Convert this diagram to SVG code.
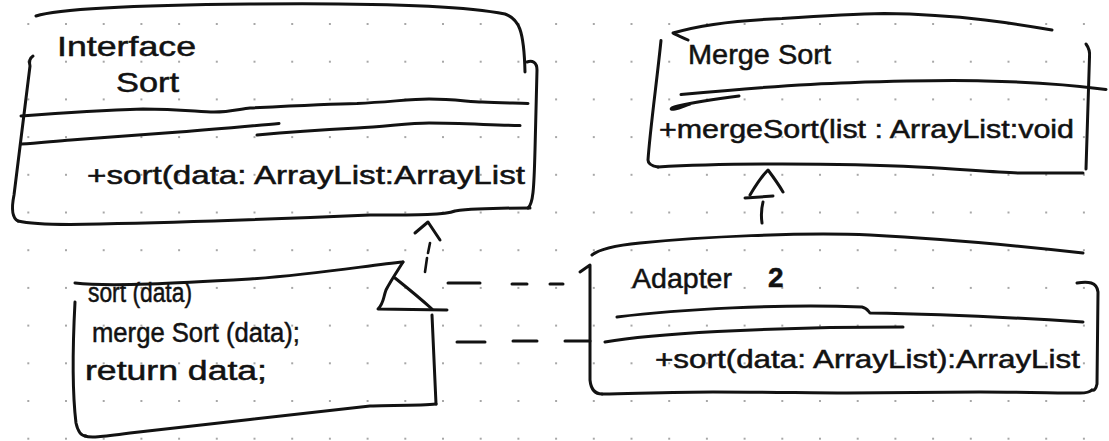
<svg xmlns="http://www.w3.org/2000/svg" width="1109" height="441" viewBox="0 0 1109 441">
  <defs>
    <!-- dotted notebook paper -->
    <pattern id="dots" x="9.45" y="5.15" width="37.7" height="37.7" patternUnits="userSpaceOnUse">
      <circle cx="18.85" cy="18.85" r="1" fill="#8a8a8a"/>
    </pattern>
    <style>
      .ink { fill: none; stroke: #121212; stroke-width: 3; stroke-linecap: round; stroke-linejoin: round; }
      .thin { fill: none; stroke: #121212; stroke-width: 2.6; stroke-linecap: round; stroke-linejoin: round; }
      .hand { font-family: "Liberation Sans", "DejaVu Sans", sans-serif; fill: #121212; stroke: #121212; stroke-width: 0.5; }
      .title { font-size: 28px; }
      .member { font-size: 25px; }
      .code { font-size: 27px; }
    </style>
  </defs>

  <rect width="1109" height="441" fill="#ffffff"/>
  <rect width="1109" height="441" fill="url(#dots)"/>

  <!-- Interface Sort -->
  <g id="interface-sort">
    <path class="ink" d="M36,16 C60,8 150,5 250,4 C350,3 460,5 505,14 C519,19 524,30 525,72"/>
    <path class="ink" d="M527,62 C532,60 537,62 537,70 L535,150 C534,190 533,204 528,208"/>
    <path class="ink" d="M530,208 C500,208 470,209 455,211 C445,215 420,215 370,215 C300,218 200,222 100,224 C60,225 30,224 18,221"/>
    <path class="ink" d="M33,56 C30,58 29,62 30,66 L14,195 C11,210 12,218 18,221"/>
    <path class="ink" d="M21,116 C60,113 110,110 143,109 C180,109 200,112 214,112 C230,112 240,109 250,108 C290,106 330,104 357,103.5 C390,102 410,99 429,99 C455,99 470,102 482,102 C500,103 515,103 528,103.5"/>
    <path class="ink" d="M21,144 C40,143 55,141 71,140 C110,137 150,134 179,132 C220,129 250,126 279,123.5"/>
    <path class="ink" d="M257,135 C290,132 320,130 357,128 C390,126 410,123 429,123 C460,123 490,125 520,125.6"/>
    <text class="hand title" x="57" y="56" textLength="139" lengthAdjust="spacingAndGlyphs">Interface</text>
    <text class="hand title" x="116" y="92" textLength="63" lengthAdjust="spacingAndGlyphs">Sort</text>
    <text class="hand member" x="87" y="184" textLength="438" lengthAdjust="spacingAndGlyphs">+sort(data: ArrayList:ArrayList</text>
  </g>

  <!-- MergeSort -->
  <g id="merge-sort">
    <path class="ink" d="M688,40 C682,37 676,35 673,33 C700,25 740,20 782,18.6 C820,16 850,14 884,13.5 C930,14 960,17 985,20 C1010,23 1035,27 1052,30"/>
    <path class="ink" d="M661,40.5 C657,80 650,130 648,160 C648,164 652,166 658,167"/>
    <path class="ink" d="M658,167 C690,165 720,164 782,164 C840,164 880,165 918,167 C960,169 990,172 1019,173 C1040,173 1065,173 1083,173"/>
    <path class="ink" d="M1086,44 C1089,48 1090,52 1089.5,57 L1086,169"/>
    <path class="ink" d="M681,94.5 C740,89 800,84 850,82.7 C900,81 950,80 985,81 C1040,82 1080,86 1106,89.4"/>
    <path class="ink" d="M739,96 C715,99 695,102 678,106 C670,108 669,110 675,109 C680,108 684,106 690,104"/>
    <text class="hand title" x="688" y="64" textLength="143" lengthAdjust="spacingAndGlyphs">Merge Sort</text>
    <text class="hand member" x="659" y="138" textLength="415" lengthAdjust="spacingAndGlyphs">+mergeSort(list : ArrayList:void</text>
  </g>

  <!-- Adapter 2 -->
  <g id="adapter">
    <path class="ink" d="M592,255 C598,250 610,246 640,243 C700,237 800,232 870,235 C950,239 1020,246 1083,253"/>
    <path class="ink" d="M580,272 L590,265 L590,380 C591,390 595,394 602,394"/>
    <path class="ink" d="M602,394 C650,393 680,392 713,392 C770,392 810,393 847,393 C900,393 940,392 980,392 C1020,392 1060,393 1080,393 C1086,393 1090,392 1092,390"/>
    <path class="ink" d="M1077,283 C1088,281 1097,282 1098,292 L1097,384 C1096,389 1094,391 1092,390"/>
    <path class="ink" d="M617,317 C680,309 780,304 862,307 C867,308 868,311 870,313 C940,314 1020,318 1083,322"/>
    <path class="ink" d="M605,342 C650,334 760,327 903,327"/>
    <text class="hand title" x="632" y="288" textLength="100" lengthAdjust="spacingAndGlyphs">Adapter</text>
    <text class="hand title" x="768" y="287" font-weight="bold">2</text>
    <text class="hand member" x="655" y="368" textLength="425" lengthAdjust="spacingAndGlyphs">+sort(data: ArrayList):ArrayList</text>
  </g>

  <!-- code note with folded corner -->
  <g id="note">
    <path class="ink" d="M75,283 C110,287 180,283 250,279 C320,274 370,265 403,262"/>
    <path class="ink" d="M403,262 C398,270 390,282 386,290 C383,298 384,303 378,309 L447,310"/>
    <path class="ink" d="M395,278 C410,290 422,300 432,309"/>
    <path class="ink" d="M432,315 L436,404"/>
    <path class="ink" d="M436,404 C420,406 380,405 370,406 C300,414 200,425 130,433 C100,437 90,438 85,436"/>
    <path class="ink" d="M75,302 C73,340 72,390 76,423 C78,432 82,436 86,436"/>
    <text class="hand code" x="88" y="302" textLength="104" lengthAdjust="spacingAndGlyphs">sort (data)</text>
    <text class="hand code" x="92" y="342" textLength="208" lengthAdjust="spacingAndGlyphs">merge Sort (data);</text>
    <text class="hand code" x="85" y="380" textLength="182" lengthAdjust="spacingAndGlyphs">return data;</text>
  </g>

  <!-- connectors -->
  <g id="connectors">
    <!-- realization: note side up to Interface Sort -->
    <path class="ink" d="M415,233 L428,222 L440,240"/>
    <path class="thin" d="M430,243 L428,253 M427,258 L425,272"/>
    <!-- Adapter to MergeSort -->
    <path class="ink" d="M750,195 C756,185 762,176 768,170 C774,178 779,185 783,192"/>
    <path class="ink" d="M745,198 L773,196"/>
    <path class="ink" d="M763,202 C761,210 761,216 762,223"/>
    <!-- dashed links between note and Adapter -->
    <path class="ink" d="M448,283 L480,283 M512,284 L527,284 M550,284 L563,284"/>
    <path class="ink" d="M457,342 L485,342 M513,341 L537,341 M565,341 L590,341"/>
  </g>
</svg>
